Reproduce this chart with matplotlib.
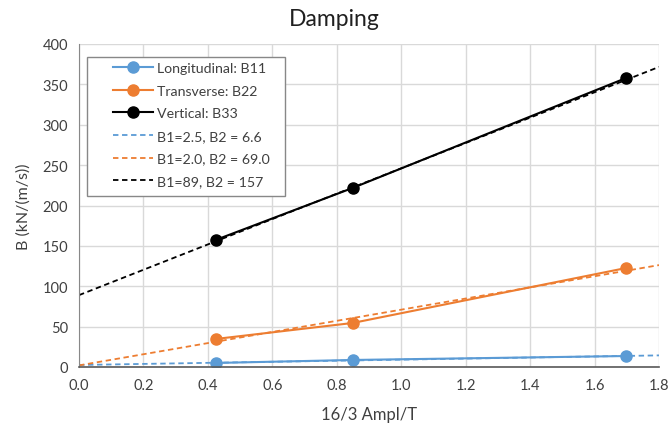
import matplotlib
matplotlib.use("Agg")
import matplotlib.pyplot as plt
from matplotlib.patches import Rectangle
import numpy as np

plt.rcParams['font.family'] = ['Lato', 'DejaVu Sans']

x = [0.424, 0.849, 1.698]
b11 = [5.0, 8.7, 13.6]
b22 = [34.7, 54.5, 122.6]
b33 = [157.3, 221.7, 357.9]
fit_x = [0.0, 1.8]
fits = {"B11": (2.5, 6.6), "B22": (2.0, 69.0), "B33": (89, 157)}
fit_labels = ["B1=2.5, B2 = 6.6", "B1=2.0, B2 = 69.0", "B1=89, B2 = 157"]

blue = "#5B9BD5"
orange = "#ED7D31"
black = "#000000"

W, H = 669, 427
L, R, T, B = 79, 659, 45, 368
fig = plt.figure(figsize=(W/100, H/100), dpi=100)
ax = fig.add_axes([L/W, 1-B/H, (R-L)/W, (B-T)/H])

def ax_xy(px, py):
    return (px - L) / (R - L), (B - py) / (B - T)

ax.plot(x, b11, '-o', color=blue, lw=1.5, ms=8, label="Longitudinal: B11")
ax.plot(x, b22, '-o', color=orange, lw=1.5, ms=8, label="Transverse: B22")
ax.plot(x, b33, '-o', color=black, lw=1.5, ms=8, label="Vertical: B33")
for (key, col), lab in zip([("B11", blue), ("B22", orange), ("B33", black)], fit_labels):
    b1, b2 = fits[key]
    fx = np.array(fit_x)
    ax.plot(fx, b1 + b2 * fx, '--', color=col, lw=1.3, dashes=(3, 2), label=lab)

ax.set_xlim(0, 1.8)
ax.set_ylim(0, 400)
ax.set_xticks(np.arange(0, 1.81, 0.2))
ax.set_xticklabels([f"{v:.1f}" for v in np.arange(0, 1.81, 0.2)])
ax.set_yticks(range(0, 401, 50))
ax.grid(True, color="#D9D9D9", lw=1)
ax.set_axisbelow(True)
for s in ["top", "right"]:
    ax.spines[s].set_visible(False)
ax.spines["left"].set_color("#888888")
ax.spines["bottom"].set_color("#595959")
ax.spines["bottom"].set_linewidth(1.2)
ax.tick_params(length=0, labelsize=10.5, colors="#404040", pad=8)

ax.set_xlabel("16/3 Ampl/T", fontsize=12, color="#404040", labelpad=10)
ax.set_ylabel("B (kN/(m/s))", fontsize=11.5, color="#404040", labelpad=8)
fig.text(0.5, 1-19/H, "Damping", ha="center", va="center", fontsize=16.5, color="#202020")

# legend frame
x0, y0 = ax_xy(87, 197)
x1, y1 = ax_xy(285, 58)
ax.add_patch(Rectangle((x0, y0), x1 - x0, y1 - y0, transform=ax.transAxes,
                       facecolor="white", edgecolor="#888888", lw=1, zorder=4))
lx, ly = ax_xy(113, 63)
leg = ax.legend(loc="upper left", bbox_to_anchor=(lx, ly), fontsize=10.2,
                frameon=False, handlelength=2.82, handletextpad=0.28,
                labelspacing=0.75, borderpad=0, borderaxespad=0)
leg.set_zorder(5)
for t in leg.get_texts():
    t.set_color("#404040")

fig.savefig("out.png", dpi=100)
